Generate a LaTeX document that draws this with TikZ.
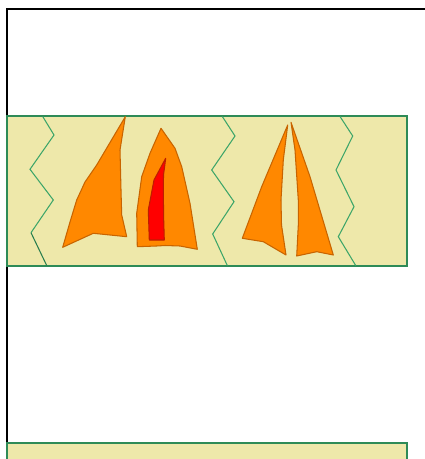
\documentclass[tikz,border=0pt]{standalone}
\usepackage{xcolor}
\usepackage{tikz}

\definecolor{bandfill}{RGB}{238,232,170}
\definecolor{bandline}{RGB}{46,139,87}
\definecolor{zigline}{RGB}{60,165,105}
\definecolor{sailfill}{RGB}{255,136,0}
\definecolor{sailline}{RGB}{200,100,0}
\definecolor{corefill}{RGB}{255,0,0}
\definecolor{coreline}{RGB}{190,30,0}

\begin{document}
\begin{tikzpicture}[x=0.02cm, y=-0.02cm]
        \tikzset{band style/.style={draw=bandline, line width=0.7pt, fill=bandfill}}
        \tikzset{zig style/.style={draw=zigline, line width=0.6pt, line join=miter}}
        \tikzset{sail style/.style={draw=sailline, line width=0.6pt, fill=sailfill, line join=round}}
        \tikzset{core style/.style={draw=coreline, line width=0.6pt, fill=corefill, line join=round}}

        \useasboundingbox (0,0) rectangle (425,459);
        \clip (0,0) rectangle (425,459);

        % frame
        \draw[line width=1.2pt, black] (7,470) -- (7,9) -- (430,9);

        % bands
        \draw[band style] (7,116) rectangle (407,266);
        \draw[band style] (7,443) rectangle (407,480);

        % zigzags
        \draw[zig style] (42.7,116.5) -- (54,135) -- (30,169.3) -- (53.3,200) -- (31,232.7);
        \draw[zig style, draw=bandline!90!black] (31,232.7) -- (46.7,265.5);
        \draw[zig style] (222.3,116.5) -- (235,136) -- (211.7,170) -- (234,201.7) -- (212.7,234) -- (227.3,265.5);
        \draw[zig style] (340,116.5) -- (352.7,136) -- (336,170) -- (354,206.7) -- (338.3,236.7) -- (355.7,265.5);

        % sails
        \draw[sail style] (125.3,116.7) -- (120,150) -- (121,190) -- (121.7,215) -- (126.7,236.7)
            -- (110,235) -- (93.3,233.3) -- (62.7,247.3) -- (70,222) -- (76.7,200) -- (85,182) -- (96.7,165) -- cycle;

        \draw[sail style] (161,128.3) -- (175,148.3) -- (181.7,166.7) -- (190,203.3) -- (197.3,249.3)
            -- (180,246) -- (165,245.5) -- (156.7,246) -- (137.3,246.7)
            -- (136.7,213.3) -- (141.7,176.7) -- (150,153.3) -- cycle;
        \draw[core style] (165.7,158.3) -- (163.5,175) -- (163.3,193.3) -- (163.7,220) -- (164.3,240)
            -- (149.3,240) -- (148.3,210) -- (154,180) -- cycle;

        \draw[sail style] (287.7,125) -- (261.7,186.7) -- (242.3,238.3)
            -- (263.3,241.7) -- (286,255) -- (281.5,225) -- (281,200) -- (283.3,160) -- cycle;
        \draw[sail style] (291,122.3) -- (310,176.7) -- (333.3,255)
            -- (316.7,251.7) -- (296.7,256) -- (298.3,225) -- (298.3,200) -- (295,150) -- cycle;
    \end{tikzpicture}
\end{document}
